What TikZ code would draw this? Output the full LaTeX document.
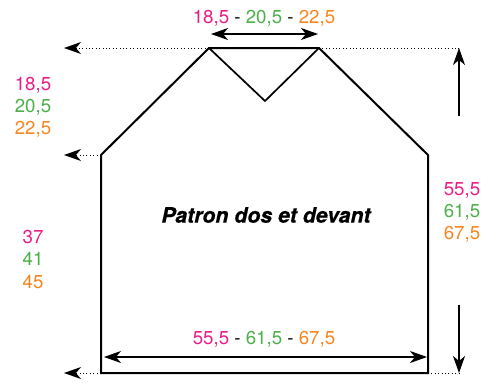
\documentclass[tikz,border=0pt]{standalone}
\usepackage{fontspec}
\setmainfont{TeX Gyre Heros}
\usetikzlibrary{arrows.meta}
\definecolor{cpink}{HTML}{EC1C85}
\definecolor{cgreen}{HTML}{4CAF4A}
\definecolor{corange}{HTML}{F7851F}
\newcommand{\tria}[3]{\textcolor{cpink}{#1}\\[-0.5pt]\textcolor{cgreen}{#2}\\[-0.5pt]\textcolor{corange}{#3}}
\newcommand{\lign}[3]{\textcolor{cpink}{#1} - \textcolor{cgreen}{#2} - \textcolor{corange}{#3}}
\tikzset{
  x=1bp,y=-1bp,
  outline/.style={draw=black,line width=2bp,line join=miter},
  tiplet/.tip={Stealth[length=17bp,width=12bp,inset=5bp]},
  dim/.style={draw=black,line width=1.1bp,tiplet-tiplet},
  onedim/.style={draw=black,line width=1.1bp,-tiplet},
  guide/.style={draw=black,line width=0.8bp,dash pattern=on 1bp off 2.4bp},
  guidearrow/.style={guide,-{Stealth[length=17bp,width=12bp,inset=5bp,line width=0pt,fill=black]}},
  label/.style={font=\fontsize{18.7bp}{22.6bp}\selectfont,inner sep=0pt,align=center},
  heading/.style={font=\fontsize{21.3bp}{24bp}\selectfont\bfseries\itshape\addfontfeature{FakeBold=0.4},inner sep=0pt}
}
\begin{document}
\begin{tikzpicture}
\useasboundingbox (0,0) rectangle (498,383);
\coordinate (bl) at (101,373);
\coordinate (sl) at (101,155);
\coordinate (nl) at (209,48);
\coordinate (nr) at (319,48);
\coordinate (sr) at (428,155);
\coordinate (br) at (428,373);
\coordinate (vn) at (265,101);
\coordinate (gl1) at (64,48);
\coordinate (gl2) at (64,155);
\coordinate (gl3) at (64,373);
\coordinate (rt) at (459,48);
\coordinate (rb) at (459,373);
\coordinate (rts) at (459,116);
\coordinate (rbs) at (459,305);
\coordinate (ta) at (211,34);
\coordinate (tb) at (318,34);
\coordinate (ba) at (104,357);
\coordinate (bb) at (427,357);
\path[outline] (sl) -- (nl) -- (nr) -- (sr) -- (br) -- (bl) -- cycle;
\path[outline,line width=1.7bp] (nl) -- (vn) -- (nr);
\path[guidearrow] (nl) -- (gl1);
\path[guidearrow] (sl) -- (gl2);
\path[guidearrow] (bl) -- (gl3);
\path[guide] (nr) -- (rt);
\path[guide] (br) -- (rb);
\path[dim] (ta) -- (tb);
\path[dim] (ba) -- (bb);
\path[onedim] (rts) -- (rt);
\path[onedim] (rbs) -- (rb);
\node[label] (top) at (264,18) {\lign{18,5}{20,5}{22,5}};
\node[label] (bottom) at (264,339) {\lign{55,5}{61,5}{67,5}};
\node[label] (left1) at (33,107) {\tria{18,5}{20,5}{22,5}};
\node[label] (left2) at (33,259.5) {\tria{37}{41}{45}};
\node[label] (right) at (462,212) {\tria{55,5}{61,5}{67,5}};
\node[heading] (title) at (266,215) {Patron dos et devant};
\end{tikzpicture}
\end{document}
